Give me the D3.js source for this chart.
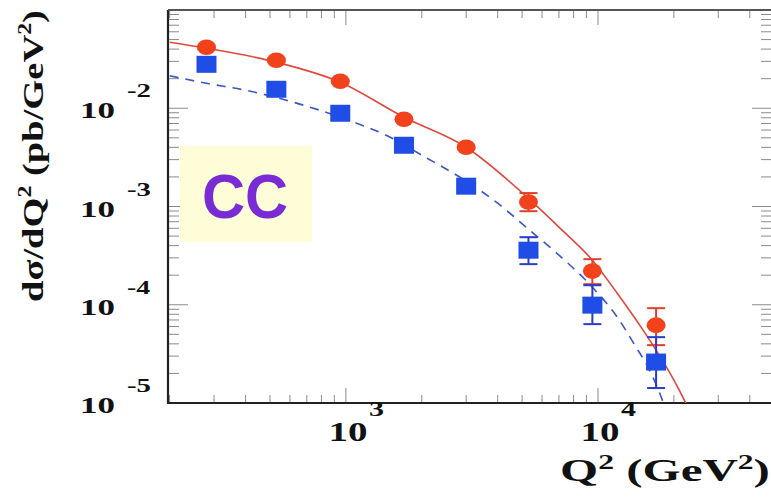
<!DOCTYPE html>
<html>
<head>
<meta charset="utf-8">
<script src="https://cdn.jsdelivr.net/npm/d3@7"></script>
<style>
  html, body { margin: 0; padding: 0; background: #fff; }
  svg { display: block; }
</style>
</head>
<body>
<div id="my_dataviz"></div>
<script>
// measured points (CC e+ red, e- blue)
var q2 = [280, 530, 950, 1700, 3000, 5300, 9500, 17000];

var redY  = [0.0417, 0.0308, 0.0188, 0.00773, 0.00401, 0.00111, 2.2e-4, 6.2e-5];
var redLo = [0.0400, 0.0296, 0.0181, 0.00745, 0.00385, 8.96e-4, 1.62e-4, 3.88e-5];
var redHi = [0.0434, 0.0320, 0.0195, 0.00801, 0.00417, 1.37e-3, 2.91e-4, 9.23e-5];

var blueY  = [0.0280, 0.0156, 0.00889, 0.00420, 0.00161, 3.59e-4, 9.91e-5, 2.61e-5];
var blueLo = [0.0270, 0.0150, 0.00855, 0.00402, 0.00152, 2.59e-4, 6.35e-5, 1.42e-5];
var blueHi = [0.0290, 0.0162, 0.00923, 0.00438, 0.00170, 4.87e-4, 1.58e-4, 4.68e-5];

// theory curves
var redFitQ = [200, 280, 530, 950, 1700, 3000, 5300, 7000, 9500, 12000, 15000, 17000, 20000, 22000, 24000];
var redFit  = [0.047, 0.0408, 0.0294, 0.0184, 0.0081, 0.00401, 0.00121, 6.17e-4, 2.84e-4, 1.28e-4, 5.65e-5, 3.45e-5, 1.71e-5, 1.07e-5, 6.7e-6];

var blueFitQ = [200, 280, 400, 600, 1000, 1500, 2000, 3000, 4000, 5300, 7000, 9500, 12000, 14000, 16000, 18000, 19000];
var blueFit  = [0.0214, 0.01795, 0.01525, 0.01178, 0.00773, 0.00507, 0.00333, 0.00181, 0.00108, 5.87e-4, 3.2e-4, 1.51e-4, 7.3e-5, 3.88e-5, 2.16e-5, 1.07e-5, 7.0e-6];

var xMajor = [1e3, 1e4];
var xMajorExp = ["3", "4"];
var yMajor = [1e-2, 1e-3, 1e-4, 1e-5];
var yMajorExp = ["-2", "-3", "-4", "-5"];

var W = 771, H = 504;
var frame = { left: 168, right: 772, top: 10, bottom: 403 };

var svg = d3.select("#my_dataviz")
    .append("svg")
    .attr("width", W)
    .attr("height", H);

var x = d3.scaleLog()
    .domain([197, 49000])
    .range([frame.left, frame.right]);

var y = d3.scaleLog()
    .domain([1e-5, 1e-1])
    .range([frame.bottom, frame.top]);

var serif = "'Liberation Serif', 'Times New Roman', Times, serif";

// stretch a text (drawn at 0,0 inside g) to a target width
function fit(textSel, target) {
    var w = textSel.node().getBBox().width;
    textSel.attr("transform", "scale(" + (target / w) + ",1)");
}

// minor/major ticks
var xTicks = [];
[100, 1000, 10000].forEach(function (d) {
    for (var k = 1; k < 10; k++) {
        var v = d * k;
        if (v > x.domain()[0] && v < x.domain()[1]) xTicks.push({ v: v, major: k === 1 });
    }
});
var yTicks = [];
[1e-5, 1e-4, 1e-3, 1e-2].forEach(function (d) {
    for (var k = 1; k < 10; k++) {
        var v = d * k;
        if (v >= y.domain()[0] && v < y.domain()[1]) yTicks.push({ v: v, major: k === 1 });
    }
});

var ticks = svg.append("g")
    .attr("stroke", "#8a8a8a")
    .attr("stroke-width", 1);

xTicks.forEach(function (t) {
    var len = t.major ? 15 : 8;
    ticks.append("line")
        .attr("x1", x(t.v)).attr("x2", x(t.v))
        .attr("y1", frame.bottom).attr("y2", frame.bottom - len);
    ticks.append("line")
        .attr("x1", x(t.v)).attr("x2", x(t.v))
        .attr("y1", frame.top).attr("y2", frame.top + len);
});

yTicks.forEach(function (t) {
    var len = t.major ? 20 : 11;
    ticks.append("line")
        .attr("x1", frame.left).attr("x2", frame.left + len)
        .attr("y1", y(t.v)).attr("y2", y(t.v));
    ticks.append("line")
        .attr("x1", frame.right).attr("x2", frame.right - len)
        .attr("y1", y(t.v)).attr("y2", y(t.v));
});

// CC label box
svg.append("rect")
    .attr("x", 180)
    .attr("y", 146)
    .attr("width", 132)
    .attr("height", 96)
    .attr("fill", "#fffcd8");

var cc = svg.append("g")
    .attr("transform", "translate(245,218)")
    .append("text")
    .attr("text-anchor", "middle")
    .attr("font-family", "'Liberation Sans', Arial, Helvetica, sans-serif")
    .attr("font-weight", "bold")
    .attr("font-size", 62)
    .attr("fill", "#7a2cd4")
    .text("CC");
fit(cc, 86);

// frame
svg.append("path")
    .attr("d", "M" + frame.left + "," + frame.top + "V" + frame.bottom + "H" + frame.right)
    .attr("fill", "none")
    .attr("stroke", "#222")
    .attr("stroke-width", 2.2);
svg.append("line")
    .attr("x1", frame.left).attr("x2", frame.right)
    .attr("y1", frame.top).attr("y2", frame.top)
    .attr("stroke", "#555")
    .attr("stroke-width", 2);

svg.append("clipPath")
    .attr("id", "clip")
    .append("rect")
    .attr("x", frame.left)
    .attr("y", frame.top)
    .attr("width", frame.right - frame.left)
    .attr("height", frame.bottom - frame.top);

var plot = svg.append("g").attr("clip-path", "url(#clip)");

var line = d3.line()
    .x(function (d) { return x(d[0]); })
    .y(function (d) { return y(d[1]); })
    .curve(d3.curveMonotoneX);

plot.append("path")
    .datum(blueFitQ.map(function (q, i) { return [q, blueFit[i]]; }))
    .attr("d", line)
    .attr("fill", "none")
    .attr("stroke", "#3a56c8")
    .attr("stroke-width", 1.6)
    .attr("stroke-dasharray", "9,7");

plot.append("path")
    .datum(redFitQ.map(function (q, i) { return [q, redFit[i]]; }))
    .attr("d", line)
    .attr("fill", "none")
    .attr("stroke", "#e0483c")
    .attr("stroke-width", 1.6);

// error bars
function errorBars(ys, lo, hi, color) {
    var g = plot.append("g")
        .attr("stroke", color)
        .attr("stroke-width", 2);
    q2.forEach(function (q, i) {
        var cx = x(q);
        g.append("line")
            .attr("x1", cx).attr("x2", cx)
            .attr("y1", y(lo[i])).attr("y2", y(hi[i]));
        [lo[i], hi[i]].forEach(function (v) {
            g.append("line")
                .attr("x1", cx - 9).attr("x2", cx + 9)
                .attr("y1", y(v)).attr("y2", y(v));
        });
    });
}
errorBars(redY, redLo, redHi, "#e0402a");
errorBars(blueY, blueLo, blueHi, "#2a3ccc");

plot.append("g")
    .selectAll("rect")
    .data(q2)
    .enter()
    .append("rect")
    .attr("x", function (d) { return x(d) - 10; })
    .attr("y", function (d, i) { return y(blueY[i]) - 8.5; })
    .attr("width", 20)
    .attr("height", 17)
    .attr("fill", "#1f4de6");

plot.append("g")
    .selectAll("ellipse")
    .data(q2)
    .enter()
    .append("ellipse")
    .attr("cx", function (d) { return x(d); })
    .attr("cy", function (d, i) { return y(redY[i]); })
    .attr("rx", 9.5)
    .attr("ry", 7.8)
    .attr("fill", "#f2421c");

// y tick labels
yMajor.forEach(function (v, i) {
    var t = svg.append("g")
        .attr("transform", "translate(115," + (y(v) + 10) + ")")
        .append("text")
        .attr("text-anchor", "end")
        .attr("font-family", serif)
        .attr("font-weight", "bold")
        .attr("font-size", 23)
        .attr("fill", "#111")
        .text("10");
    fit(t, 35);
    var e = svg.append("g")
        .attr("transform", "translate(127," + (y(v) - 11) + ")")
        .append("text")
        .attr("font-family", serif)
        .attr("font-weight", "bold")
        .attr("font-size", 19)
        .attr("fill", "#111")
        .text(yMajorExp[i]);
    fit(e, 24);
});

// x tick labels
xMajor.forEach(function (v, i) {
    var t = svg.append("g")
        .attr("transform", "translate(" + (x(v) + 2) + ",441)")
        .append("text")
        .attr("text-anchor", "middle")
        .attr("font-family", serif)
        .attr("font-weight", "bold")
        .attr("font-size", 28)
        .attr("fill", "#111")
        .text("10");
    fit(t, 39);
    var e = svg.append("g")
        .attr("transform", "translate(" + (x(v) + 23) + ",416)")
        .append("text")
        .attr("font-family", serif)
        .attr("font-weight", "bold")
        .attr("font-size", 22)
        .attr("fill", "#111")
        .text(xMajorExp[i]);
    fit(e, 15);
});

// axis titles
var xt = svg.append("g")
    .attr("transform", "translate(560,481)")
    .append("text")
    .attr("font-family", serif)
    .attr("font-weight", "bold")
    .attr("font-size", 31)
    .attr("fill", "#111");
xt.append("tspan").text("Q");
xt.append("tspan").attr("dy", -12).attr("font-size", 20).text("2");
xt.append("tspan").attr("dy", 12).text(" (GeV");
xt.append("tspan").attr("dy", -12).attr("font-size", 20).text("2");
xt.append("tspan").attr("dy", 12).text(")");
fit(xt, 210);

var yt = svg.append("g")
    .attr("transform", "translate(43,156) rotate(-90)")
    .append("text")
    .attr("text-anchor", "middle")
    .attr("font-family", serif)
    .attr("font-weight", "bold")
    .attr("font-size", 29)
    .attr("fill", "#111");
yt.append("tspan").text("d\u03c3/dQ");
yt.append("tspan").attr("dy", -12).attr("font-size", 18).text("2");
yt.append("tspan").attr("dy", 12).text(" (pb/GeV");
yt.append("tspan").attr("dy", -12).attr("font-size", 18).text("2");
yt.append("tspan").attr("dy", 12).text(")");
fit(yt, 292);
</script>
</body>
</html>
